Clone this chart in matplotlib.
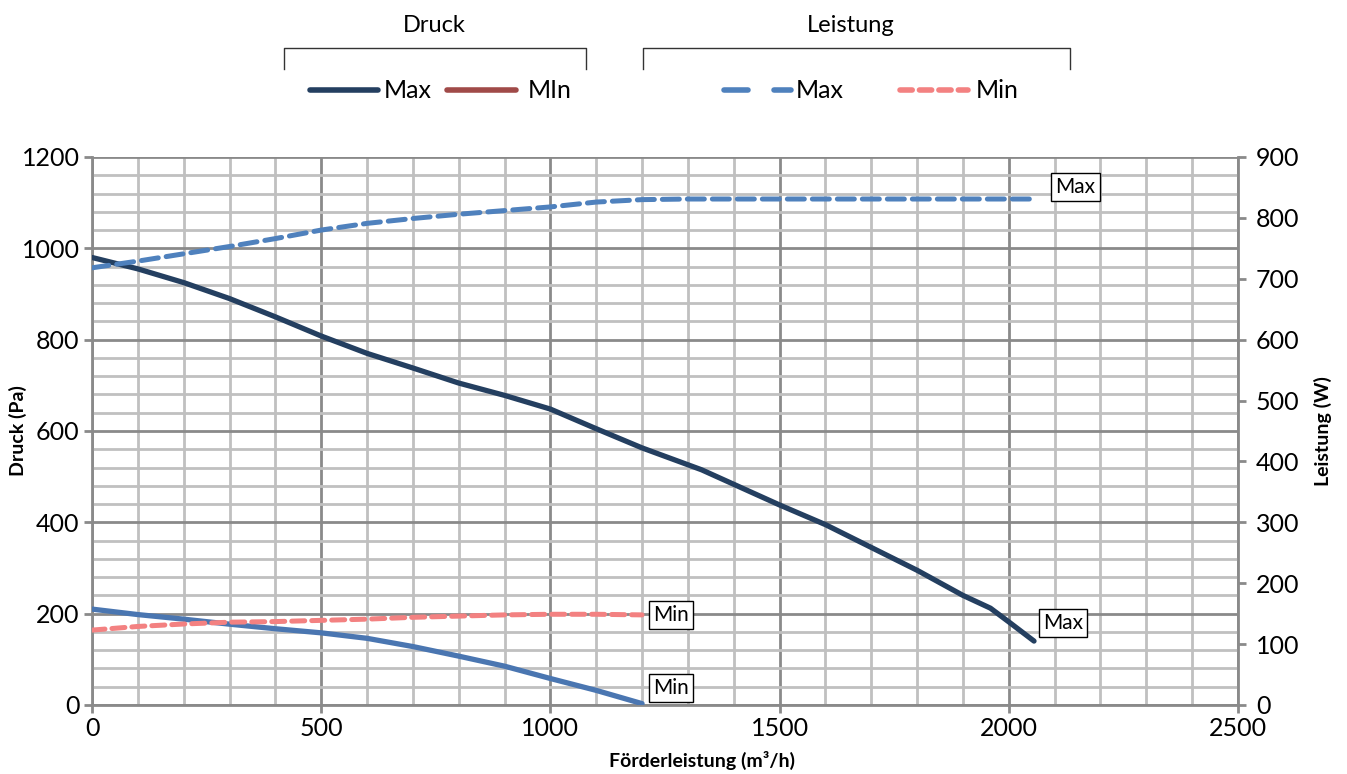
import matplotlib.pyplot as plt
from matplotlib.lines import Line2D
from matplotlib.ticker import MultipleLocator

plt.rcParams['font.family'] = ['Lato', 'DejaVu Sans']

# Druck (Pa) over Förderleistung (m3/h)
flow_p_max = [0, 100, 200, 300, 400, 500, 600, 700, 800, 900, 1000, 1100, 1200, 1330,
              1500, 1600, 1700, 1800, 1900, 1960, 2000, 2055]
p_max = [980, 955, 925, 890, 850, 808, 770, 738, 705, 678, 648, 605, 563, 515,
         438, 395, 345, 295, 240, 212, 182, 140]
flow_p_min = [0, 100, 200, 300, 400, 500, 600, 700, 800, 900, 1000, 1100, 1200]
p_min = [210, 198, 188, 177, 167, 158, 146, 128, 107, 85, 58, 32, 3]

# Leistung (W)
flow_w_max = [0, 100, 200, 300, 400, 500, 600, 700, 800, 900, 1000, 1100, 1200, 1300, 1500, 2050]
w_max = [718, 729, 741, 753, 766, 780, 791, 799, 806, 812, 818, 826, 830, 831, 831, 831]
flow_w_min = [0, 100, 200, 300, 400, 500, 600, 700, 800, 900, 1000, 1100, 1200]
w_min = [123, 129, 133, 136, 137, 139, 141, 144, 146, 148, 149, 149, 148]

NAVY = "#243f60"
BLUE = "#4a76b1"
BLUE_D = "#4f81bd"
SALMON = "#f38181"
DARKRED = "#a04a48"
GRID_MINOR = "#c0c0c0"
GRID_MAJOR = "#8a8a8a"

W, H = 1347, 774
fig = plt.figure(figsize=(W / 100, H / 100), dpi=100)
ax = fig.add_axes([92 / W, 1 - 705 / H, (1238 - 92) / W, (705 - 157) / H])
ax2 = ax.twinx()

ax.set_xlim(0, 2500)
ax.set_ylim(0, 1200)
ax2.set_ylim(0, 900)

ax.xaxis.set_major_locator(MultipleLocator(500))
ax.xaxis.set_minor_locator(MultipleLocator(100))
ax.yaxis.set_major_locator(MultipleLocator(200))
ax.yaxis.set_minor_locator(MultipleLocator(40))
ax2.yaxis.set_major_locator(MultipleLocator(100))

ax.grid(which="minor", color=GRID_MINOR, lw=2)
ax.grid(which="major", color=GRID_MAJOR, lw=2)
ax.set_axisbelow(True)

for a in (ax, ax2):
    for s in a.spines.values():
        s.set_visible(False)
for a, side in ((ax, "left"), (ax, "bottom"), (ax2, "right")):
    a.spines[side].set_visible(True)
    a.spines[side].set_color(GRID_MAJOR)
    a.spines[side].set_linewidth(2)

ax.tick_params(which="minor", length=0)
ax.tick_params(which="major", length=6, width=2, color=GRID_MAJOR, labelsize=18, pad=3)
ax2.tick_params(which="major", length=6, width=2, color=GRID_MAJOR, labelsize=18, pad=7)

ax.set_xlabel("Förderleistung (m³/h)", fontsize=14, fontweight="bold")
ax.set_ylabel("Druck (Pa)", fontsize=14, fontweight="bold")
ax2.set_ylabel("Leistung (W)", fontsize=14, fontweight="bold")
ax.xaxis.set_label_coords(0.532, -0.084)
ax.yaxis.set_label_coords(-0.057, 0.5)
ax2.yaxis.set_label_coords(1.066, 0.5)

ax.plot(flow_p_max, p_max, color=NAVY, lw=3.8, solid_capstyle="round", zorder=3)
ax.plot(flow_p_min, p_min, color=BLUE, lw=3.8, solid_capstyle="round", zorder=3)
ax2.plot(flow_w_max, w_max, color=BLUE_D, lw=3.6, dashes=(3.4, 1.6), dash_capstyle="round")
ax2.plot(flow_w_min, w_min, color=SALMON, lw=3.6, dashes=(2.6, 1.4), dash_capstyle="round")

box = dict(boxstyle="square,pad=0.2", fc="white", ec="black", lw=1)
ax.text(2102, 1134, "Max", fontsize=15, va="center", ha="left", bbox=box, zorder=5)
ax.text(2074, 180, "Max", fontsize=15, va="center", ha="left", bbox=box, zorder=5)
ax.text(1224, 197, "Min", fontsize=15, va="center", ha="left", bbox=box, zorder=5)
ax.text(1224, 37, "Min", fontsize=15, va="center", ha="left", bbox=box, zorder=5)


# legend with group brackets, drawn in pixel coordinates of the figure
def fx(x):
    return x / W


def fy(y):
    return 1 - y / H


for x0, x1, title, tx in [(284, 586, "Druck", 434), (643, 1070, "Leistung", 851)]:
    fig.add_artist(Line2D([fx(x0), fx(x0), fx(x1), fx(x1)], [fy(69), fy(48), fy(48), fy(69)],
                          color="#333333", lw=1))
    fig.text(fx(tx), fy(26), title, fontsize=17, ha="center", va="center")

fig.add_artist(Line2D([fx(310), fx(378)], [fy(90), fy(90)], color=NAVY, lw=4, solid_capstyle="round"))
fig.text(fx(384), fy(90), "Max", fontsize=18, va="center")
fig.add_artist(Line2D([fx(447), fx(516)], [fy(90), fy(90)], color=DARKRED, lw=4, solid_capstyle="round"))
fig.text(fx(528), fy(90), "MIn", fontsize=18, va="center")
fig.add_artist(Line2D([fx(724), fx(748)], [fy(90), fy(90)], color=BLUE_D, lw=4, solid_capstyle="round"))
fig.add_artist(Line2D([fx(774), fx(791)], [fy(90), fy(90)], color=BLUE_D, lw=4, solid_capstyle="round"))
fig.text(fx(796), fy(90), "Max", fontsize=18, va="center")
fig.add_artist(Line2D([fx(900), fx(968)], [fy(90), fy(90)], color=SALMON, lw=4,
                      dashes=(2.2, 1.3), dash_capstyle="round"))
fig.text(fx(976), fy(90), "Min", fontsize=18, va="center")

fig.savefig("out.png", dpi=100)
